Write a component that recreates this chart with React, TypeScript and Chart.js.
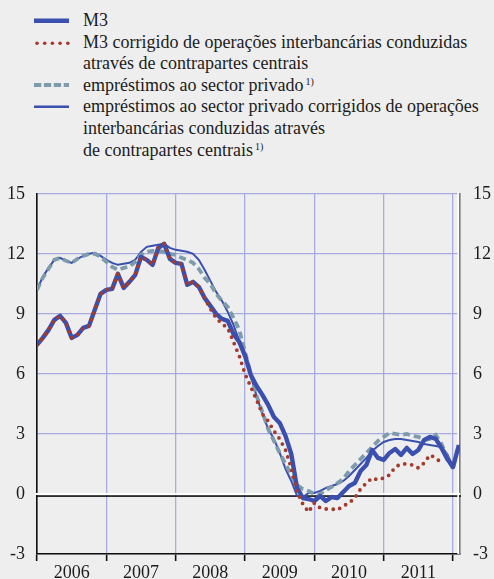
import React, { useEffect, useRef } from "react";
import { Chart, registerables } from "chart.js";

Chart.register(...registerables);

// Months: index 0 = Dec 2005 ... index 73 = Jan 2012 (annual % changes)
const m3 = [
  7.45, 7.8, 8.2, 8.7, 8.9, 8.55, 7.8, 7.95, 8.3, 8.4, 9.2, 10.0,
  10.2, 10.25, 11.0, 10.3, 10.6, 10.95, 11.85, 11.7, 11.45, 12.3, 12.5, 11.75,
  11.55, 11.5, 10.45, 10.6, 10.35, 9.8, 9.4, 9.0, 8.75, 8.65, 8.0, 7.6,
  6.9, 5.95, 5.4, 4.95, 4.45, 3.85, 3.55, 2.9, 2.0, 0.3, -0.2, -0.25,
  -0.35, -0.1, -0.35, -0.15, -0.2, 0.1, 0.4, 0.55, 1.15, 1.45, 2.2, 1.8,
  1.7, 2.05, 2.25, 1.95, 2.3, 2.0, 2.2, 2.7, 2.85, 2.75, 2.3, 1.75,
  1.35, 2.45,
];

const m3Adjusted = [
  7.45, 7.8, 8.2, 8.7, 8.9, 8.55, 7.8, 7.95, 8.3, 8.4, 9.2, 10.0,
  10.2, 10.25, 11.0, 10.3, 10.6, 10.95, 11.85, 11.7, 11.45, 12.3, 12.5, 11.75,
  11.55, 11.5, 10.45, 10.6, 10.35, 9.8, 9.25, 8.8, 8.5, 8.3, 7.6, 6.9,
  6.0, 5.35, 4.7, 4.0, 3.65, 3.15, 2.75, 2.2, 1.3, 0.1, -0.5, -0.9,
  -0.45, -0.7, -0.75, -0.75, -0.8, -0.6, -0.45, -0.2, 0.25, 0.55, 0.8, 0.7,
  0.8, 0.95, 1.35, 1.5, 1.5, 1.45, 1.3, 1.55, 1.95, 1.8, 1.55,
];

const loans = [
  10.2, 10.8, 11.25, 11.7, 11.8, 11.65, 11.55, 11.75, 11.9, 12.0, 12.0, 11.85,
  11.6, 11.35, 11.2, 11.3, 11.35, 11.6, 11.95, 12.1, 12.15, 12.15, 12.1, 12.0,
  11.95, 11.8, 11.7, 11.55, 11.25, 10.8, 10.5, 10.0, 9.65, 9.35, 8.8, 8.2,
  7.1, 6.0, 4.9, 4.1, 3.25, 2.65, 2.05, 1.5, 0.95, 0.45, 0.25, 0.15,
  0.0, 0.0, 0.2, 0.35, 0.55, 0.75, 1.15, 1.45, 1.75, 2.05, 2.35, 2.65,
  2.85, 3.05, 3.0, 2.95, 3.0, 2.9, 2.85, 2.7, 2.75, 2.95, 2.5, 1.8,
  1.25,
];

const loansAdjusted = [
  10.2, 10.85, 11.3, 11.7, 11.8, 11.65, 11.55, 11.75, 11.9, 12.0, 12.05, 11.9,
  11.7, 11.55, 11.45, 11.5, 11.55, 11.7, 12.1, 12.35, 12.4, 12.45, 12.5, 12.3,
  12.2, 12.15, 12.1, 12.0, 11.7, 11.2, 10.65, 10.1, 9.65, 9.1, 8.45, 7.65,
  7.0, 5.9, 4.9, 4.0, 3.25, 2.75, 2.05, 1.25, 0.65, -0.1, -0.15, 0.05,
  0.05, 0.15, 0.3, 0.4, 0.5, 0.65, 0.9, 1.2, 1.5, 1.8, 2.15, 2.4,
  2.6, 2.7, 2.75, 2.75, 2.7, 2.65, 2.6, 2.5, 2.45, 2.4, 2.35, 2.0,
  1.35,
];

const yearLabels = ["2006", "2007", "2008", "2009", "2010", "2011"];
const yearCentres = [6, 18, 30, 42, 54, 66];
const yearBounds = [0, 12, 24, 36, 48, 60, 72];
const yTicks = [-3, 0, 3, 6, 9, 12, 15];
const X_MAX = 73.2;

const legendM3 = ["M3"];
const legendM3Adj = ["M3 corrigido de operações interbancárias conduzidas", "através de contrapartes centrais"];
const legendLoans = ["empréstimos ao sector privado"];
const legendLoansAdj = [
  "empréstimos ao sector privado corrigidos de operações",
  "interbancárias conduzidas através",
  "de contrapartes centrais",
];
const footnoteMark = "1)";

const FONT = '"Liberation Serif", "Times New Roman", serif';
const BLUE = "#3a4fae";
const RED = "#a33a2c";
const GREYBLUE = "#7d9bab";
const GRID = "#a7abe0";
const BG = "#eeeeee";
const TEXT = "#1c1c1c";

const toPts = (arr: number[]) => arr.map((v, i) => ({ x: i, y: v }));

const overlayPlugin = {
  id: "overlayLines",
  beforeDatasetsDraw(chart: any) {
    const { ctx, chartArea, scales } = chart;
    const y0 = scales.y.getPixelForValue(0);
    ctx.save();
    ctx.fillStyle = "#ffffff";
    ctx.fillRect(chartArea.left - 2, y0 - 1, chartArea.right - chartArea.left + 2, 2);
    ctx.fillStyle = "#111111";
    ctx.fillRect(chartArea.left, y0 + 1.3, chartArea.right - chartArea.left + 1, 1.6);
    ctx.fillStyle = "#ffffff";
    ctx.fillRect(chartArea.right - 2.6, chartArea.top - 1, 1.6, chartArea.bottom - chartArea.top + 1);
    ctx.restore();
  },
};

function ChartCanvas() {
  const ref = useRef<HTMLCanvasElement | null>(null);
  useEffect(() => {
    if (!ref.current) return;
    const tickFont = { family: FONT, size: 18 };
    const chart = new Chart(ref.current, {
      type: "line",
      data: {
        datasets: [
          {
            label: "M3 corrigido",
            data: toPts(m3Adjusted),
            borderColor: RED,
            borderWidth: 3.8,
            borderDash: [0, 7],
            borderCapStyle: "round",
            pointRadius: 0,
            tension: 0,
            fill: false,
          },
          {
            label: "M3",
            data: toPts(m3),
            borderColor: BLUE,
            borderWidth: 4.4,
            pointRadius: 0,
            tension: 0,
            fill: false,
            borderJoinStyle: "round",
          },
          {
            label: "empréstimos",
            data: toPts(loans),
            borderColor: GREYBLUE,
            borderWidth: 3.8,
            borderDash: [7, 4],
            pointRadius: 0,
            tension: 0,
            fill: false,
          },
          {
            label: "empréstimos corrigidos",
            data: toPts(loansAdjusted),
            borderColor: BLUE,
            borderWidth: 2,
            pointRadius: 0,
            tension: 0,
            fill: false,
          },
        ],
      },
      options: {
        animation: false,
        responsive: true,
        maintainAspectRatio: false,
        layout: { padding: { top: 14, right: 0, bottom: 0, left: 0 } },
        plugins: { legend: { display: false }, tooltip: { enabled: false } },
        scales: {
          x: {
            type: "linear",
            min: 0,
            max: X_MAX,
            afterBuildTicks: (axis: any) => {
              axis.ticks = [...yearBounds, ...yearCentres]
                .sort((a, b) => a - b)
                .map((v) => ({ value: v }));
            },
            afterFit: (axis: any) => {
              axis.height = 25;
            },
            ticks: {
              autoSkip: false,
              maxRotation: 0,
              padding: 1,
              color: TEXT,
              font: tickFont,
              callback: (value: any) => {
                const idx = yearCentres.indexOf(Number(value));
                return idx >= 0 ? yearLabels[idx] : "";
              },
            },
            grid: {
              color: (c: any) => (c.tick && yearBounds.includes(c.tick.value) ? GRID : "rgba(0,0,0,0)"),
              tickColor: (c: any) => (c.tick && yearBounds.includes(c.tick.value) ? "#111111" : "rgba(0,0,0,0)"),
              tickLength: 7,
              lineWidth: 1.3,
              tickWidth: 1.6,
            },
            border: { display: true, color: "#111111", width: 1.6 },
          },
          y: {
            position: "left",
            min: -3,
            max: 15,
            afterBuildTicks: (axis: any) => {
              axis.ticks = yTicks.map((v) => ({ value: v }));
            },
            afterFit: (axis: any) => {
              axis.width = 37;
            },
            ticks: { color: TEXT, font: tickFont, padding: 12 },
            grid: { color: GRID, lineWidth: 1.3, drawTicks: false },
            border: { display: true, color: "#111111", width: 1.6 },
          },
          y2: {
            position: "right",
            min: -3,
            max: 15,
            afterBuildTicks: (axis: any) => {
              axis.ticks = yTicks.map((v) => ({ value: v }));
            },
            afterFit: (axis: any) => {
              axis.width = 34;
            },
            ticks: { color: TEXT, font: tickFont, padding: 13 },
            grid: { display: false, drawTicks: false },
            border: { display: true, color: "#7a7a7a", width: 1.6 },
          },
        },
      },
      plugins: [overlayPlugin],
    } as any);
    return () => chart.destroy();
  }, []);
  return <canvas ref={ref} />;
}

const Sup = () => (
  <span style={{ fontSize: 10, position: "relative", top: -6, marginLeft: 2 }}>{footnoteMark}</span>
);

export default function App() {
  useEffect(() => {
    document.body.style.margin = "0";
    document.body.style.background = BG;
  }, []);
  const lineH = 21.6;
  const textStyle: React.CSSProperties = {
    position: "absolute",
    left: 83,
    fontSize: 18,
    lineHeight: `${lineH}px`,
    whiteSpace: "nowrap",
    color: TEXT,
  };
  const top0 = 10;
  return (
    <div
      style={{
        position: "relative",
        width: 494,
        height: 579,
        background: BG,
        fontFamily: FONT,
        overflow: "hidden",
      }}
    >
      <svg width={80} height={120} style={{ position: "absolute", left: 0, top: 0 }}>
        <line x1={34} x2={69} y1={20.7} y2={20.7} stroke={BLUE} strokeWidth={4.5} />
        {[37, 44.7, 52.4, 60.1, 67.8].map((cx) => (
          <circle key={cx} cx={cx} cy={43.3} r={1.8} fill={RED} />
        ))}
        <line x1={34} x2={69} y1={85} y2={85} stroke={GREYBLUE} strokeWidth={4} strokeDasharray="7.3 2.6" />
        <line x1={34} x2={69} y1={106.7} y2={106.7} stroke={BLUE} strokeWidth={2.4} />
      </svg>
      <div style={{ ...textStyle, top: top0 }}>{legendM3[0]}</div>
      <div style={{ ...textStyle, top: top0 + lineH }}>
        {legendM3Adj.map((t) => (
          <div key={t}>{t}</div>
        ))}
      </div>
      <div style={{ ...textStyle, top: top0 + lineH * 3 }}>
        {legendLoans[0]}
        <Sup />
      </div>
      <div style={{ ...textStyle, top: top0 + lineH * 4 }}>
        {legendLoansAdj.map((t, i) => (
          <div key={t}>
            {t}
            {i === legendLoansAdj.length - 1 ? <Sup /> : null}
          </div>
        ))}
      </div>
      <div style={{ position: "absolute", left: 0, top: 170, width: 494, height: 409 }}>
        <ChartCanvas />
      </div>
    </div>
  );
}
